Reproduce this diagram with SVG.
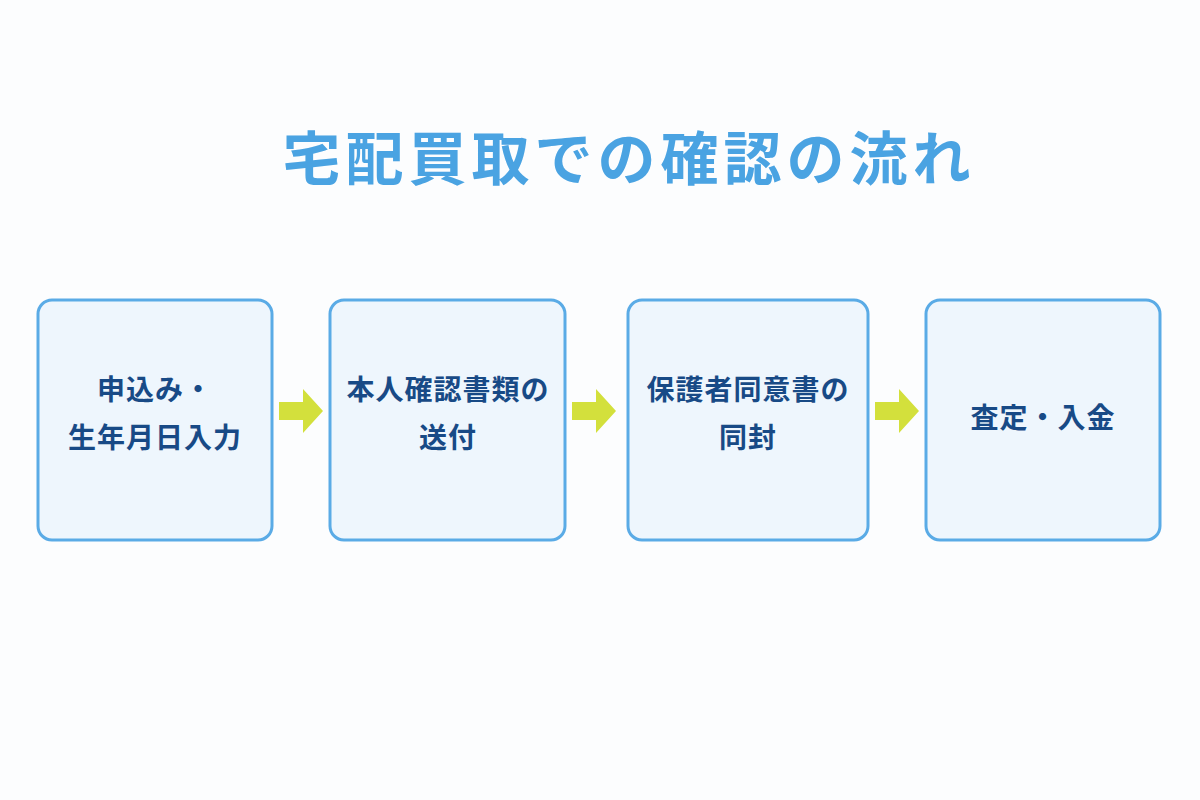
<svg xmlns="http://www.w3.org/2000/svg" width="1200" height="800" viewBox="0 0 1200 800">
<defs>
<style>
.box{fill:#eef6fd;stroke:#5aabe6;stroke-width:3}
.t{font-family:"Noto Sans CJK JP","Noto Sans CJK SC",sans-serif;font-weight:700;font-size:28px;fill:#184a86;text-anchor:middle;letter-spacing:1px}
.title{font-family:"Noto Sans CJK JP","Noto Sans CJK SC",sans-serif;font-weight:700;font-size:58px;fill:#4aa3e2;text-anchor:middle;letter-spacing:5px}
.arr{fill:#d3e03c}
</style>
</defs>
<rect width="1200" height="800" fill="#fcfdfe"/>
<text class="title" x="629" y="180">宅配買取での確認の流れ</text>
<g id="connectors">
<polygon class="arr" points="279,402 303,402 303,389 323,411 303,433 303,420 279,420"/>
<polygon class="arr" points="572,402 596,402 596,389 616,411 596,433 596,420 572,420"/>
<polygon class="arr" points="875,402 899,402 899,389 919,411 899,433 899,420 875,420"/>
</g>
<g id="n1">
<rect class="box" x="38" y="300" width="234" height="240" rx="14"/>
<text class="t" x="155" y="400">申込み・</text>
<text class="t" x="155" y="448">生年月日入力</text>
</g>
<g id="n2">
<rect class="box" x="330" y="300" width="235" height="240" rx="14"/>
<text class="t" x="448" y="400">本人確認書類の</text>
<text class="t" x="448" y="448">送付</text>
</g>
<g id="n3">
<rect class="box" x="628" y="300" width="240" height="240" rx="14"/>
<text class="t" x="748" y="400">保護者同意書の</text>
<text class="t" x="748" y="448">同封</text>
</g>
<g id="n4">
<rect class="box" x="926" y="300" width="234" height="240" rx="14"/>
<text class="t" x="1043" y="428">査定・入金</text>
</g>
</svg>
